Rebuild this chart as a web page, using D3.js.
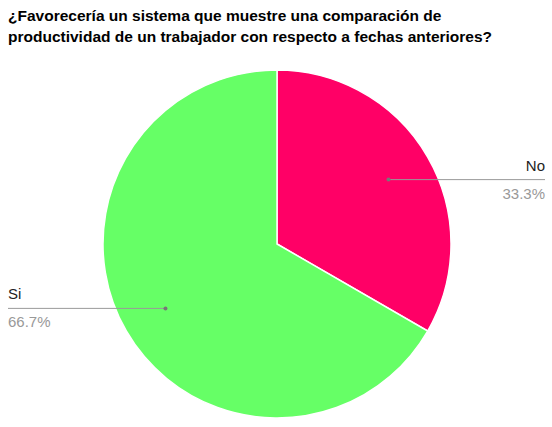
<!DOCTYPE html><html><head><script src="https://cdn.jsdelivr.net/npm/d3@7"></script>
<style>body{margin:0;background:#fff}</style></head><body><svg width="552" height="427"></svg><script>
const titleLines=["¿Favorecería un sistema que muestre una comparación de","productividad de un trabajador con respecto a fechas anteriores?"];
const categories=["No","Si"];
const values=[1,2];
const pctLabels=["33.3%","66.7%"];
const colors=["#ff0066","#66ff66"];
const svg=d3.select("svg");
const cx=277,cy=244,R=174;
svg.selectAll("text.t").data(titleLines).join("text").attr("x",8).attr("y",(d,i)=>21+i*21)
 .attr("font-family","Arial, Liberation Sans").attr("font-weight","bold").attr("font-size",15.5).text(d=>d);
const pie=d3.pie().sort(null)(values);
const arc=d3.arc().innerRadius(0).outerRadius(R);
const g=svg.append("g").attr("transform",`translate(${cx},${cy})`);
g.selectAll("path").data(pie).join("path").attr("d",arc).attr("fill",(d,i)=>colors[i]).attr("stroke","#fff").attr("stroke-width",1.5);
const inner=d3.arc().innerRadius(R*0.74).outerRadius(R*0.74);
pie.forEach((d,i)=>{
 const [x,y]=inner.centroid(d);const px=cx+x,py=cy+y;
 const right=px>cx;const ex=right?545:8;
 svg.append("line").attr("x1",px).attr("y1",py).attr("x2",ex).attr("y2",py).attr("stroke","#999").attr("stroke-width",1);
 svg.append("circle").attr("cx",px).attr("cy",py).attr("r",2).attr("fill","#777");
 const anchor=right?"end":"start";
 svg.append("text").attr("x",ex).attr("y",py-9).attr("text-anchor",anchor).attr("font-family","Arial, Liberation Sans").attr("font-size",15).attr("fill","#222").text(categories[i]);
 svg.append("text").attr("x",ex).attr("y",py+19).attr("text-anchor",anchor).attr("font-family","Arial, Liberation Sans").attr("font-size",15).attr("fill","#999").text(pctLabels[i]);
});
</script></body></html>
